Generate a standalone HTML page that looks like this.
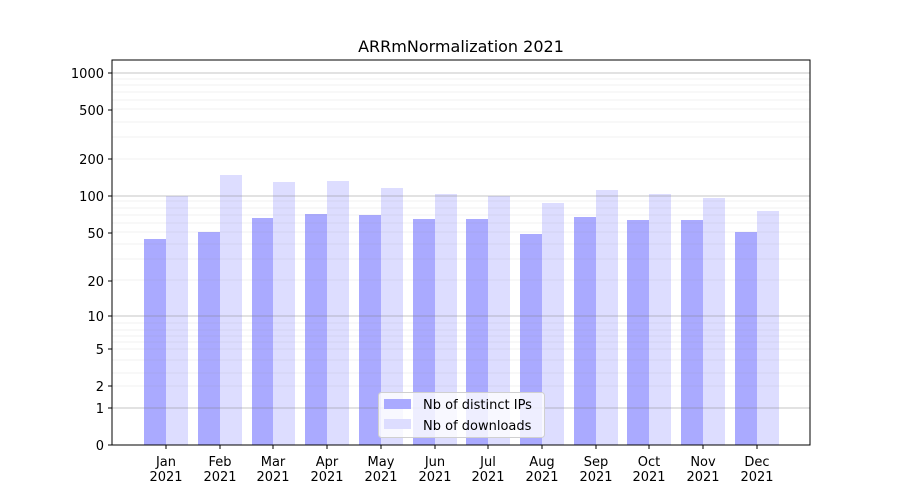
<!DOCTYPE html>
<html><head><meta charset="utf-8"><style>body{margin:0;background:#fff}svg{display:block}text{font-family:"DejaVu Sans","Liberation Sans",sans-serif;font-size:13px;fill:#000}</style></head>
<body>
<svg width="900" height="500" xmlns="http://www.w3.org/2000/svg">
<rect width="900" height="500" fill="#fff"/>
<g fill="#aaaaff">
<rect x="144" y="239" width="22" height="206"/><rect x="198" y="232" width="22" height="213"/><rect x="252" y="218" width="22" height="227"/><rect x="305" y="214" width="22" height="231"/><rect x="359" y="215" width="22" height="230"/><rect x="413" y="219" width="22" height="226"/><rect x="466" y="219" width="22" height="226"/><rect x="520" y="234" width="22" height="211"/><rect x="574" y="217" width="22" height="228"/><rect x="627" y="220" width="22" height="225"/><rect x="681" y="220" width="22" height="225"/><rect x="735" y="232" width="22" height="213"/>
</g>
<g fill="#ddddff">
<rect x="166" y="196" width="22" height="249"/><rect x="220" y="175" width="22" height="270"/><rect x="273" y="182" width="22" height="263"/><rect x="327" y="181" width="22" height="264"/><rect x="381" y="188" width="22" height="257"/><rect x="435" y="194" width="22" height="251"/><rect x="488" y="196" width="22" height="249"/><rect x="542" y="203" width="22" height="242"/><rect x="596" y="190" width="22" height="255"/><rect x="649" y="194" width="22" height="251"/><rect x="703" y="198" width="22" height="247"/><rect x="757" y="211" width="22" height="234"/>
</g>
<g stroke="#808080" stroke-opacity="0.15" stroke-width="0.8">
<line x1="112" x2="810" y1="373" y2="373"/><line x1="112" x2="810" y1="360" y2="360"/><line x1="112" x2="810" y1="386" y2="386"/><line x1="112" x2="810" y1="349" y2="349"/><line x1="112" x2="810" y1="342" y2="342"/><line x1="112" x2="810" y1="336" y2="336"/><line x1="112" x2="810" y1="330" y2="330"/><line x1="112" x2="810" y1="323" y2="323"/>
<line x1="112" x2="810" y1="280" y2="280"/><line x1="112" x2="810" y1="259" y2="259"/><line x1="112" x2="810" y1="244" y2="244"/><line x1="112" x2="810" y1="232" y2="232"/><line x1="112" x2="810" y1="223" y2="223"/><line x1="112" x2="810" y1="215" y2="215"/><line x1="112" x2="810" y1="208" y2="208"/><line x1="112" x2="810" y1="201" y2="201"/>
<line x1="112" x2="810" y1="159" y2="159"/><line x1="112" x2="810" y1="137" y2="137"/><line x1="112" x2="810" y1="122" y2="122"/><line x1="112" x2="810" y1="109" y2="109"/><line x1="112" x2="810" y1="100" y2="100"/><line x1="112" x2="810" y1="92" y2="92"/><line x1="112" x2="810" y1="85" y2="85"/><line x1="112" x2="810" y1="79" y2="79"/>
</g>
<g stroke="#808080" stroke-opacity="0.45" stroke-width="1">
<line x1="112" x2="810" y1="408" y2="408"/><line x1="112" x2="810" y1="316" y2="316"/><line x1="112" x2="810" y1="196" y2="196"/><line x1="112" x2="810" y1="73" y2="73"/>
</g>
<rect x="112" y="60" width="698" height="385" fill="none" stroke="#000" stroke-width="1"/>
<g stroke="#000">
<line x1="108" x2="112" y1="445" y2="445"/><line x1="108" x2="112" y1="408" y2="408"/><line x1="108" x2="112" y1="386" y2="386"/><line x1="108" x2="112" y1="349" y2="349"/><line x1="108" x2="112" y1="316" y2="316"/><line x1="108" x2="112" y1="281" y2="281"/><line x1="108" x2="112" y1="233" y2="233"/><line x1="108" x2="112" y1="196" y2="196"/><line x1="108" x2="112" y1="159" y2="159"/><line x1="108" x2="112" y1="110" y2="110"/><line x1="108" x2="112" y1="73" y2="73"/>
<line x1="166" x2="166" y1="445" y2="449"/><line x1="220" x2="220" y1="445" y2="449"/><line x1="273" x2="273" y1="445" y2="449"/><line x1="327" x2="327" y1="445" y2="449"/><line x1="381" x2="381" y1="445" y2="449"/><line x1="435" x2="435" y1="445" y2="449"/><line x1="488" x2="488" y1="445" y2="449"/><line x1="542" x2="542" y1="445" y2="449"/><line x1="596" x2="596" y1="445" y2="449"/><line x1="649" x2="649" y1="445" y2="449"/><line x1="703" x2="703" y1="445" y2="449"/><line x1="757" x2="757" y1="445" y2="449"/>
</g>
<g text-anchor="end">
<text x="104" y="450">0</text><text x="104" y="413">1</text><text x="104" y="391">2</text><text x="104" y="354">5</text><text x="104" y="321">10</text><text x="104" y="286">20</text><text x="104" y="238">50</text><text x="104" y="201">100</text><text x="104" y="164">200</text><text x="104" y="115">500</text><text x="104" y="78">1000</text>
</g>
<g text-anchor="middle">
<text x="166" y="466">Jan</text><text x="166" y="481">2021</text>
<text x="220" y="466">Feb</text><text x="220" y="481">2021</text>
<text x="273" y="466">Mar</text><text x="273" y="481">2021</text>
<text x="327" y="466">Apr</text><text x="327" y="481">2021</text>
<text x="381" y="466">May</text><text x="381" y="481">2021</text>
<text x="435" y="466">Jun</text><text x="435" y="481">2021</text>
<text x="488" y="466">Jul</text><text x="488" y="481">2021</text>
<text x="542" y="466">Aug</text><text x="542" y="481">2021</text>
<text x="596" y="466">Sep</text><text x="596" y="481">2021</text>
<text x="649" y="466">Oct</text><text x="649" y="481">2021</text>
<text x="703" y="466">Nov</text><text x="703" y="481">2021</text>
<text x="757" y="466">Dec</text><text x="757" y="481">2021</text>
<text x="461" y="52" style="font-size:16px">ARRmNormalization 2021</text>
</g>
<rect x="378.5" y="392.5" width="166" height="45" rx="3" fill="#fff" fill-opacity="0.8" stroke="#d0d0d0"/>
<rect x="384" y="399" width="27" height="10" fill="#aaaaff"/>
<rect x="384" y="419" width="27" height="10" fill="#ddddff"/>
<text x="423" y="409">Nb of distinct IPs</text>
<text x="423" y="430">Nb of downloads</text>
</svg>
</body></html>
